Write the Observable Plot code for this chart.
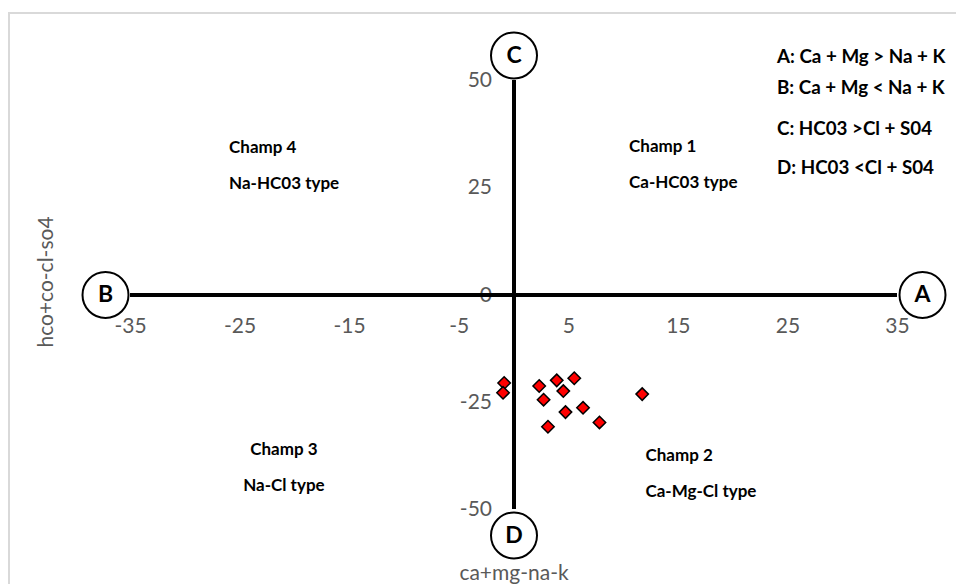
<!DOCTYPE html>
<html>
<head>
<meta charset="utf-8">
<script src="https://cdn.jsdelivr.net/npm/d3@7"></script>
<script src="https://cdn.jsdelivr.net/npm/@observablehq/plot@0.6"></script>
<style>
  html, body { margin: 0; padding: 0; background: #fff; overflow: hidden; }
  #wrap { position: relative; width: 956px; height: 584px; }
  #frame { position: absolute; left: 8px; top: 12px; width: 990px; height: 640px;
           border: 2px solid #d9d9d9; box-sizing: border-box; }
  #chart { position: absolute; left: 0; top: 0; }
</style>
</head>
<body>
<div id="wrap"><div id="frame"></div><div id="chart"></div></div>
<script>
// Water samples: (Ca + Mg) - (Na + K) against (HCO3 + CO3) - (Cl + SO4), meq/L
const cationBalance = [-0.9, -1.0, 2.3, 3.9, 5.5, 4.5, 2.7, 4.7, 6.3, 3.1, 7.8, 11.7];
const anionBalance  = [-20.5, -22.8, -21.2, -19.9, -19.4, -22.4, -24.4, -27.3, -26.3, -30.7, -29.7, -23.1];

// Axis ticks
const xTicks = [-35, -25, -15, -5, 5, 15, 25, 35];
const yTicks = [50, 25, 0, -25, -50];

// Axis extents
const xExtent = [-35, 35];
const yExtent = [-50, 50];

// Pole letters at the ends of the two axes
const poleLetters = ["A", "B", "C", "D"];

// Water type fields
const fieldNames = ["Champ 1", "Champ 2", "Champ 3", "Champ 4"];
const fieldTypes = ["Ca-HC03 type", "Ca-Mg-Cl type", "Na-Cl type", "Na-HC03 type"];

// Meaning of each pole
const poleRules = [
  "A: Ca + Mg > Na + K",
  "B: Ca + Mg < Na + K",
  "C: HC03 >Cl + S04",
  "D: HC03 <Cl + S04"
];

const samples = cationBalance.map((x, i) => ({x, y: anionBalance[i]}));

// Where each pole sits (axis end) and how far its circle is pushed outward
const poles = [
  {letter: poleLetters[0], x: xExtent[1], y: 0, dx: 25, dy: 0},
  {letter: poleLetters[1], x: xExtent[0], y: 0, dx: -25, dy: 0},
  {letter: poleLetters[2], x: 0, y: yExtent[1], dx: 0, dy: -25},
  {letter: poleLetters[3], x: 0, y: yExtent[0], dx: 0, dy: 26}
];

// Field labels, anchored in data space (last line baseline)
const fields = [
  {text: `${fieldNames[0]}\n${fieldTypes[0]}`, x: 10.5, y: 24.9, anchor: "start"},
  {text: `${fieldNames[1]}\n${fieldTypes[1]}`, x: 12.0, y: -47.0, anchor: "start"},
  {text: `${fieldNames[2]}\n${fieldTypes[2]}`, x: -21.0, y: -45.6, anchor: "middle"},
  {text: `${fieldNames[3]}\n${fieldTypes[3]}`, x: -26.0, y: 24.8, anchor: "start"}
];

// Pole legend lines (baselines in data space)
const ruleLines = poleRules.map((text, i) => ({text, x: 24.0, y: [54.0, 46.9, 37.2, 28.1][i]}));

const tickColor = "#595959";

const chart = Plot.plot({
  width: 956,
  height: 584,
  marginLeft: 130,
  marginRight: 59,
  marginTop: 80,
  marginBottom: 75,
  x: {domain: xExtent, axis: null},
  y: {domain: yExtent, axis: null},
  style: {fontFamily: "Lato, sans-serif", background: "transparent", overflow: "visible"},
  marks: [
    // tick labels along the crossing axes
    Plot.text(xTicks, {x: d => d, y: 0, dy: 31, text: d => `${d}`, fill: tickColor,
      fontSize: 21, lineAnchor: "middle", textAnchor: "middle"}),
    Plot.text(yTicks, {x: 0, y: d => d, dx: -22, text: d => `${d}`, fill: tickColor,
      fontSize: 21, lineAnchor: "middle", textAnchor: "end"}),
    // axis lines crossing at the origin
    Plot.ruleY([{y: 0, x1: xExtent[0], x2: xExtent[1]}], {y: "y", x1: "x1", x2: "x2",
      stroke: "black", strokeWidth: 4}),
    Plot.ruleX([{x: 0, y1: yExtent[0], y2: yExtent[1]}], {x: "x", y1: "y1", y2: "y2",
      stroke: "black", strokeWidth: 4}),
    // samples
    Plot.dot(samples, {x: "x", y: "y", symbol: "diamond2", r: 5.6,
      fill: "#ff0000", stroke: "black", strokeWidth: 1.5}),
    // pole circles
    ...poles.flatMap(p => [
      Plot.dot([p], {x: "x", y: "y", dx: p.dx, dy: p.dy, r: 23,
        fill: "white", stroke: "black", strokeWidth: 2}),
      Plot.text([p], {x: "x", y: "y", dx: p.dx, dy: p.dy, text: "letter",
        fontSize: 23, fontWeight: "bold", fill: "black", lineAnchor: "middle"})
    ]),
    // field labels
    ...fields.map(f => Plot.text([f], {x: "x", y: "y", text: "text", textAnchor: f.anchor,
      lineAnchor: "bottom", lineHeight: 2.12, fontSize: 17, fontWeight: "bold", fill: "black"})),
    // pole legend
    Plot.text(ruleLines, {x: "x", y: "y", text: "text", textAnchor: "start",
      lineAnchor: "bottom", fontSize: 18.8, fontWeight: "bold", fill: "black"}),
    // axis titles
    Plot.text(["ca+mg-na-k"], {frameAnchor: "bottom", dy: 70, text: d => d,
      textAnchor: "middle", lineAnchor: "bottom", fontSize: 21, fill: tickColor}),
    Plot.text(["hco+co-cl-so4"], {frameAnchor: "left", dx: -84, dy: -13, rotate: -90,
      text: d => d, textAnchor: "middle", lineAnchor: "middle", fontSize: 21, fill: tickColor})
  ]
});

document.getElementById("chart").appendChild(chart);
</script>
</body>
</html>
